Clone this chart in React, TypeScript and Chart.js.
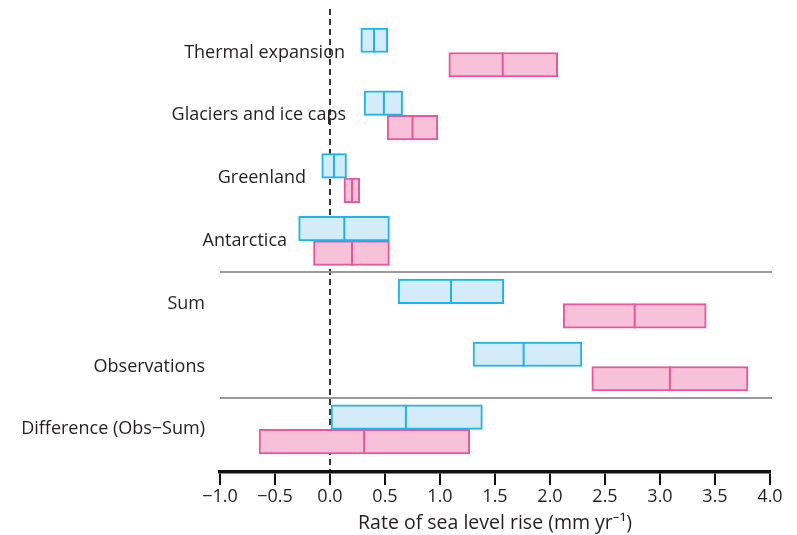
import React, { useEffect, useRef } from "react";
import { Chart, registerables } from "chart.js";

Chart.register(...registerables);

const categories = [
  "Thermal expansion",
  "Glaciers and ice caps",
  "Greenland",
  "Antarctica",
  "Sum",
  "Observations",
  "Difference (Obs\u2212Sum)",
];

// 1961–2003 (blue)
const blueLow = [0.28, 0.31, -0.075, -0.285, 0.62, 1.3, 0.0];
const blueHigh = [0.525, 0.66, 0.15, 0.54, 1.58, 2.29, 1.385];
const blueMid = [0.4, 0.49, 0.036, 0.13, 1.1, 1.76, 0.69];

// 1993–2003 (pink)
const pinkLow = [1.08, 0.52, 0.127, -0.15, 2.12, 2.38, -0.645];
const pinkHigh = [2.07, 0.98, 0.27, 0.54, 3.42, 3.8, 1.27];
const pinkMid = [1.57, 0.75, 0.2, 0.2, 2.77, 3.09, 0.31];

const xTicksMin = -1.0;
const xTicksMax = 4.0;
const xTickStep = 0.5;
const separators = [3.5, 5.5];
const xTitle = "Rate of sea level rise (mm yr\u207B\u00B9)";

// layout / style constants
const LABEL_RIGHT_PX = [345, 346, 306, 287, 205, 205, 205];
const FONT = "'Open Sans', 'Noto Sans', sans-serif";
const FONT_SIZE = 18;
const TITLE_SIZE = 19.5;
const TEXT = "#231f20";
const BLUE = "#1cb5ea";
const BLUE_FILL = "#d4ecf9";
const PINK = "#e8579b";
const PINK_FILL = "#f6c1d9";

const medians = [blueMid, pinkMid];
const medColors = [BLUE, PINK];

const overlayPlugin = {
  id: "overlay",
  beforeDatasetsDraw(chart: any) {
    const { ctx, chartArea, scales } = chart;
    const y = scales.y;
    ctx.save();
    ctx.strokeStyle = "#9a9a9e";
    ctx.lineWidth = 2;
    separators.forEach((v) => {
      const py = Math.round(y.getPixelForValue(v));
      ctx.beginPath();
      ctx.moveTo(chartArea.left, py);
      ctx.lineTo(chartArea.right + 2, py);
      ctx.stroke();
    });
    ctx.restore();
  },
  afterDatasetsDraw(chart: any) {
    const { ctx, scales } = chart;
    const x = scales.x;
    ctx.save();
    ctx.lineWidth = 2;
    chart.data.datasets.forEach((_: any, di: number) => {
      const meta = chart.getDatasetMeta(di);
      ctx.strokeStyle = medColors[di];
      meta.data.forEach((el: any, i: number) => {
        const px = x.getPixelForValue(medians[di][i]);
        const h = el.height;
        ctx.beginPath();
        ctx.moveTo(px, el.y - h / 2);
        ctx.lineTo(px, el.y + h / 2);
        ctx.stroke();
      });
    });
    ctx.restore();
  },
  afterDraw(chart: any) {
    const { ctx, scales } = chart;
    const y = scales.y;
    ctx.save();
    ctx.font = `${FONT_SIZE}px ${FONT}`;
    ctx.fillStyle = TEXT;
    ctx.textAlign = "right";
    ctx.textBaseline = "middle";
    categories.forEach((c, i) => {
      ctx.fillText(c, LABEL_RIGHT_PX[i], y.getPixelForValue(i));
    });
    ctx.restore();
  },
};

export default function App() {
  const ref = useRef<HTMLCanvasElement>(null);
  useEffect(() => {
    if (!ref.current) return;
    const chart = new Chart(ref.current, {
      type: "bar",
      data: {
        datasets: [
          {
            label: "1961–2003",
            data: categories.map((_, i) => ({ y: i, x: [blueLow[i], blueHigh[i]] })) as any,
            backgroundColor: BLUE_FILL,
            borderColor: BLUE,
            borderWidth: 2,
            borderSkipped: false,
            barThickness: 24.5,
          },
          {
            label: "1993–2003",
            data: categories.map((_, i) => ({ y: i, x: [pinkLow[i], pinkHigh[i]] })) as any,
            backgroundColor: PINK_FILL,
            borderColor: PINK,
            borderWidth: 2,
            borderSkipped: false,
            barThickness: 24.5,
          },
        ],
      },
      options: {
        indexAxis: "y",
        responsive: false,
        animation: false,
        devicePixelRatio: 1,
        layout: { padding: { left: 220, right: 27, top: 9, bottom: 0 } },
        plugins: { legend: { display: false }, tooltip: { enabled: false } },
        scales: {
          y: {
            type: "linear",
            reverse: true,
            min: -0.693,
            max: 6.68,
            offset: false,
            display: false,
            grid: { display: false, offset: false },
          },
          x: {
            type: "linear",
            min: xTicksMin,
            max: xTicksMax,
            z: 1,
            afterFit: (s: any) => {
              s.height = 63;
            },
            ticks: {
              stepSize: xTickStep,
              color: TEXT,
              font: { family: FONT, size: FONT_SIZE },
              padding: 1,
              maxRotation: 0,
              callback: (v: any) => Number(v).toFixed(1).replace("-", "\u2212"),
            },
            grid: {
              drawOnChartArea: true,
              color: (c: any) =>
                c.tick && Math.abs(c.tick.value) < 1e-9 ? "#333333" : "rgba(0,0,0,0)",
              lineWidth: 2,
              tickLength: 13,
              tickColor: "#111111",
              tickWidth: 2,
            },
            border: { display: true, color: "#111111", width: 3.5, dash: [6, 4] },
            title: {
              display: true,
              text: xTitle,
              color: TEXT,
              font: { family: FONT, size: TITLE_SIZE },
              padding: { top: 2, bottom: 0 },
            },
          },
        },
      },
      plugins: [overlayPlugin],
    });
    return () => chart.destroy();
  }, []);
  return (
    <div style={{ position: "fixed", left: 0, top: 0, width: 797, height: 535, background: "#fff" }}>
      <canvas ref={ref} width={797} height={535} style={{ width: 797, height: 535 }} />
    </div>
  );
}
